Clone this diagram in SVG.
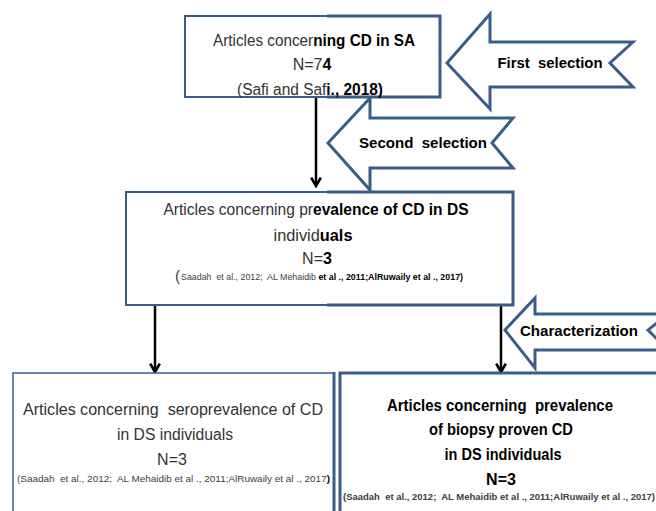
<svg xmlns="http://www.w3.org/2000/svg" width="656" height="511" viewBox="0 0 656 511">
<defs>
<style>
text{white-space:pre}
.box{fill:#fff;stroke:#385d8a;stroke-width:2}
.thick{fill:none;stroke:#385d8a;stroke-width:3}
.barrow{fill:#fff;stroke:#385d8a;stroke-width:3;stroke-linejoin:miter}
.t{font-family:"Liberation Sans",Arial,sans-serif;font-size:16px;fill:#333;text-anchor:middle}
.b{font-weight:bold;fill:#000}
.lbl{font-family:"Liberation Sans",Arial,sans-serif;font-size:15px;font-weight:bold;fill:#000;text-anchor:middle}
.c{font-family:"Liberation Sans",Arial,sans-serif;font-size:8.5px;fill:#404040}
.conn{stroke:#000;stroke-width:2.5;fill:none}
</style>
<marker id="arr" viewBox="0 0 10 10" refX="8" refY="5" markerUnits="userSpaceOnUse" markerWidth="12" markerHeight="12" orient="auto">
<path d="M1,1 L8,5 L1,9" fill="none" stroke="#000" stroke-width="2.2"/>
</marker>
</defs>
<rect width="656" height="511" fill="#fff"/>

<g id="connectors">
<line class="conn" x1="316" y1="97" x2="316" y2="186" marker-end="url(#arr)"/>
<line class="conn" x1="155" y1="305" x2="155" y2="372" marker-end="url(#arr)"/>
<line class="conn" x1="501" y1="305" x2="501" y2="372" marker-end="url(#arr)"/>
</g>

<g id="first-selection">
<polygon class="barrow" points="447,63 490,14 490,42 633,42 610,63 633,87 490,87 490,109"/>
<text class="lbl" x="550" y="68" textLength="105" lengthAdjust="spacingAndGlyphs">First  selection</text>
</g>

<g id="second-selection">
<polygon class="barrow" points="328,143 370,98 370,118 513,118 492,143 513,168 370,168 370,190"/>
<text class="lbl" x="423" y="148" textLength="128" lengthAdjust="spacingAndGlyphs">Second  selection</text>
</g>

<g id="characterization">
<polygon class="barrow" points="505,330 535,298 535,314 668,314 648,330 668,350 535,350 535,368"/>
<text class="lbl" x="579" y="336" textLength="118" lengthAdjust="spacingAndGlyphs">Characterization</text>
</g>

<g id="box1">
<rect class="box" x="185" y="16" width="255" height="81"/>
<path class="thick" d="M327,16 H440 V97 H327"/>
<text class="t" x="314" y="46" textLength="202" lengthAdjust="spacingAndGlyphs">Articles concer<tspan class="b">ning CD in SA</tspan></text>
<text class="t" x="312" y="70">N=7<tspan class="b">4</tspan></text>
<text class="t" x="310" y="95" textLength="146" lengthAdjust="spacingAndGlyphs">(Safi and Saf<tspan class="b">i., 2018)</tspan></text>
</g>

<g id="box2">
<rect class="box" x="126" y="192" width="387" height="113"/>
<path class="thick" d="M327,192 H513 V305 H327"/>
<text class="t" x="316" y="215" textLength="305" lengthAdjust="spacingAndGlyphs">Articles concerning pr<tspan class="b">evalence of CD in DS</tspan></text>
<text class="t" x="313" y="241" textLength="79" lengthAdjust="spacingAndGlyphs">individ<tspan class="b">uals</tspan></text>
<text class="t" x="317" y="264">N=<tspan class="b">3</tspan></text>
<text class="c" x="175" y="281"><tspan font-size="15">(</tspan></text>
<text class="c" x="181" y="280" textLength="282" lengthAdjust="spacingAndGlyphs">Saadah  et al., 2012;  AL Mehaidib<tspan class="b"> et al ., 2011;AlRuwaily et al ., 2017)</tspan></text>
</g>

<g id="box3">
<rect class="box" x="13" y="373" width="321" height="150" style="stroke-width:1.5"/>
<line class="thick" x1="334" y1="372" x2="334" y2="511"/>
<text class="t" x="173" y="415" textLength="300" lengthAdjust="spacingAndGlyphs">Articles concerning  seroprevalence of CD</text>
<text class="t" x="175" y="440" textLength="116" lengthAdjust="spacingAndGlyphs">in DS individuals</text>
<text class="t" x="172" y="465">N=3</text>
<text class="c" x="17" y="482" textLength="313" lengthAdjust="spacingAndGlyphs">(Saadah  et al., 2012;  AL Mehaidib et al ., 2011;AlRuwaily et al ., 2017<tspan class="b">)</tspan></text>
</g>

<g id="box4">
<rect class="thick" x="340" y="373" width="330" height="150" style="fill:#fff"/>
<text class="t b" x="500" y="411" textLength="226" lengthAdjust="spacingAndGlyphs">Articles concerning  prevalence</text>
<text class="t b" x="501" y="435" textLength="144" lengthAdjust="spacingAndGlyphs">of biopsy proven CD</text>
<text class="t b" x="503" y="460" textLength="117" lengthAdjust="spacingAndGlyphs">in DS individuals</text>
<text class="t b" x="501" y="485">N=3</text>
<text class="c b" x="343" y="500" textLength="312" lengthAdjust="spacingAndGlyphs">(Saadah  et al., 2012;  AL Mehaidib et al ., 2011;AlRuwaily et al ., 2017)</text>
</g>
</svg>
